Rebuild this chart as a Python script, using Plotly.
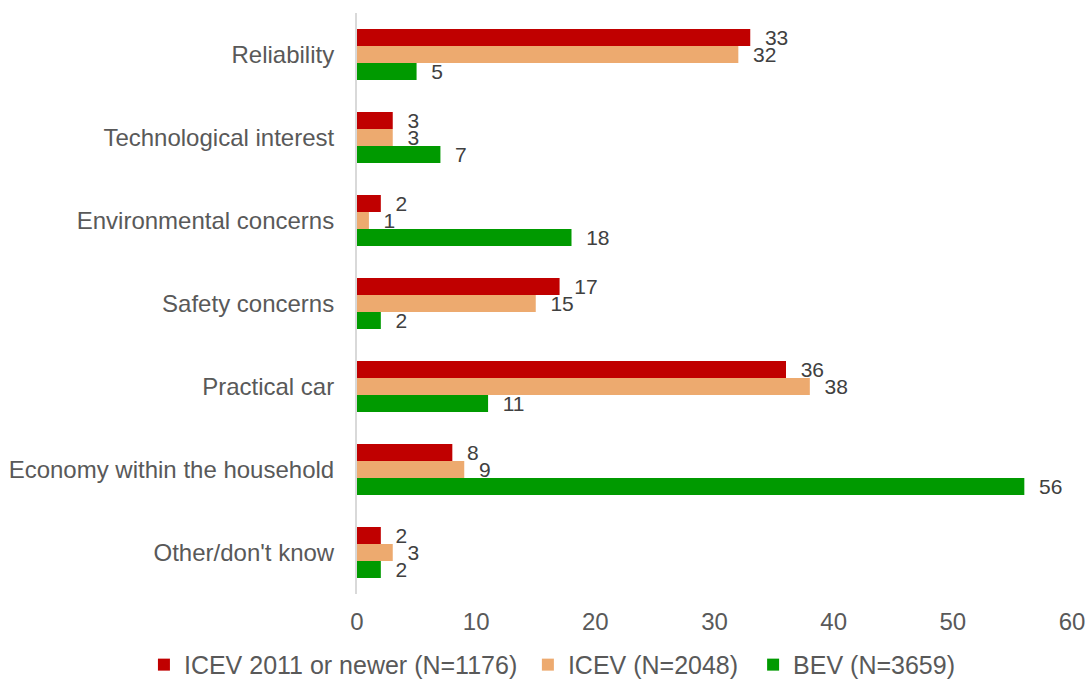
import plotly.graph_objects as go

categories = [
    "Reliability",
    "Technological interest",
    "Environmental concerns",
    "Safety concerns",
    "Practical car",
    "Economy within the household",
    "Other/don't know",
]
series_names = ["ICEV 2011 or newer (N=1176)", "ICEV (N=2048)", "BEV (N=3659)"]
icev_2011 = [33, 3, 2, 17, 36, 8, 2]
icev_all = [32, 3, 1, 15, 38, 9, 3]
bev = [5, 7, 18, 2, 11, 56, 2]
x_ticks = [0, 10, 20, 30, 40, 50, 60]

colors = ["#C00000", "#EDAA6F", "#009A00"]
legend_ids = ["legend", "legend2", "legend3"]
legend_x = [-0.298, 0.239, 0.554]
FONT = "Liberation Sans, Arial, sans-serif"
PAD = "\u00a0\u00a0"

fig = go.Figure()
for name, vals, col, lg in zip(series_names, [icev_2011, icev_all, bev], colors, legend_ids):
    fig.add_trace(go.Bar(
        y=categories,
        x=vals,
        name=name,
        orientation="h",
        marker=dict(color=col, line=dict(width=0)),
        text=[f"{PAD}{v}" for v in vals],
        textposition="outside",
        constraintext="none",
        textfont=dict(family=FONT, size=21, color="#404040"),
        cliponaxis=False,
        legend=lg,
    ))

legend_style = dict(
    orientation="h",
    xanchor="left",
    y=-0.122,
    yanchor="middle",
    bgcolor="rgba(0,0,0,0)",
    font=dict(family=FONT, size=25, color="#595959"),
    itemwidth=30,
)

fig.update_layout(
    width=1085,
    height=684,
    margin=dict(l=357, r=13, t=13, b=90, autoexpand=False),
    barmode="group",
    bargap=0.385,
    bargroupgap=0,
    plot_bgcolor="white",
    paper_bgcolor="white",
    font=dict(family=FONT, size=24, color="#595959"),
    showlegend=True,
    **{lg: dict(x=lx, **legend_style) for lg, lx in zip(legend_ids, legend_x)},
)

fig.update_xaxes(
    range=[0, 60],
    tickvals=x_ticks,
    showgrid=False,
    zeroline=False,
    showline=False,
    ticks="",
    automargin=False,
    ticklabeloverflow="allow",
    ticklabelstandoff=11,
    tickfont=dict(family=FONT, size=24, color="#595959"),
)
fig.update_yaxes(
    autorange="reversed",
    showgrid=False,
    zeroline=False,
    showline=True,
    linecolor="#D9D9D9",
    linewidth=2,
    ticks="",
    automargin=False,
    ticklabelstandoff=16,
    tickfont=dict(family=FONT, size=24, color="#595959"),
)

fig.write_html("out.html")
